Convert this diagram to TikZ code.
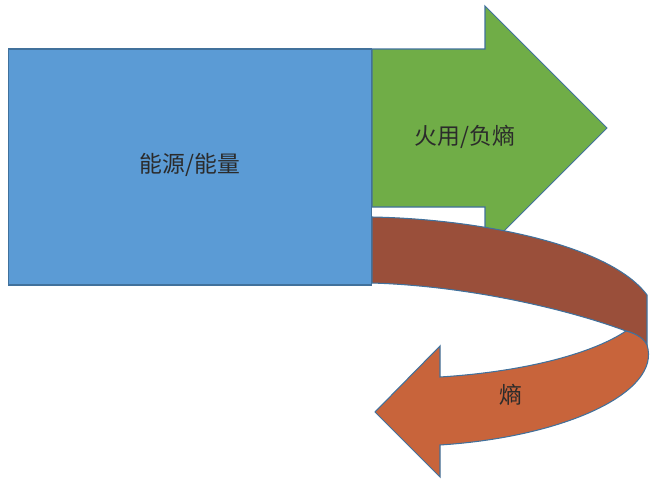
\documentclass[tikz,border=0pt]{standalone}
\usepackage{fontspec}
\newfontfamily\cjk{Noto Sans CJK SC}
\usepackage{tikz}
\usetikzlibrary{positioning, calc}
\definecolor{energyblue}{HTML}{5B9BD5}
\definecolor{usegreen}{HTML}{70AD47}
\definecolor{backbrown}{HTML}{9A4F3A}
\definecolor{frontorange}{HTML}{C8643B}
\definecolor{outline}{HTML}{41719C}
\definecolor{labeltext}{HTML}{2B2B2B}
\tikzstyle{part}     = [draw=outline, line width=0.6pt, line join=miter]
\tikzstyle{lbl}      = [text=labeltext, font=\cjk\fontsize{13pt}{15pt}\selectfont, inner sep=0pt]

\begin{document}
\begin{tikzpicture}[x=0.02cm, y=-0.02cm]
  \useasboundingbox (0,0) rectangle (654,480);

  % green output arrow
  \draw[part, fill=usegreen] (372,49) -- (485,49) -- (485,6) -- (607,128)
    -- (485,250) -- (485,207) -- (372,207) -- cycle;

  % back half of the return band
  \draw[part, fill=backbrown] (372,217) .. controls (480,219) and (610,245) .. (647,295)
    -- (647,350) .. controls (645,340) and (638,334) .. (626,331)
    .. controls (570,310) and (470,286) .. (372,283) -- cycle;

  % front half with the head
  \draw[part, fill=frontorange] (626,331) .. controls (638,334) and (645,340) .. (647,345)
    .. controls (662,392) and (565,437) .. (440,445)
    -- (440,477) -- (375,412) -- (440,346) -- (440,377)
    .. controls (520,372) and (590,355) .. (626,331) -- cycle;

  \node[part, fill=energyblue, minimum width=7.28cm, minimum height=4.72cm,
        inner sep=0pt] (energy) at (190,167) {};
  \node[lbl] (energytxt) at (190,165) {能源/能量};
  \node[lbl] (exergy) at (465,137) {火用/负熵};
  \node[lbl] (entropy) at (511,395) {熵};
\end{tikzpicture}
\end{document}
